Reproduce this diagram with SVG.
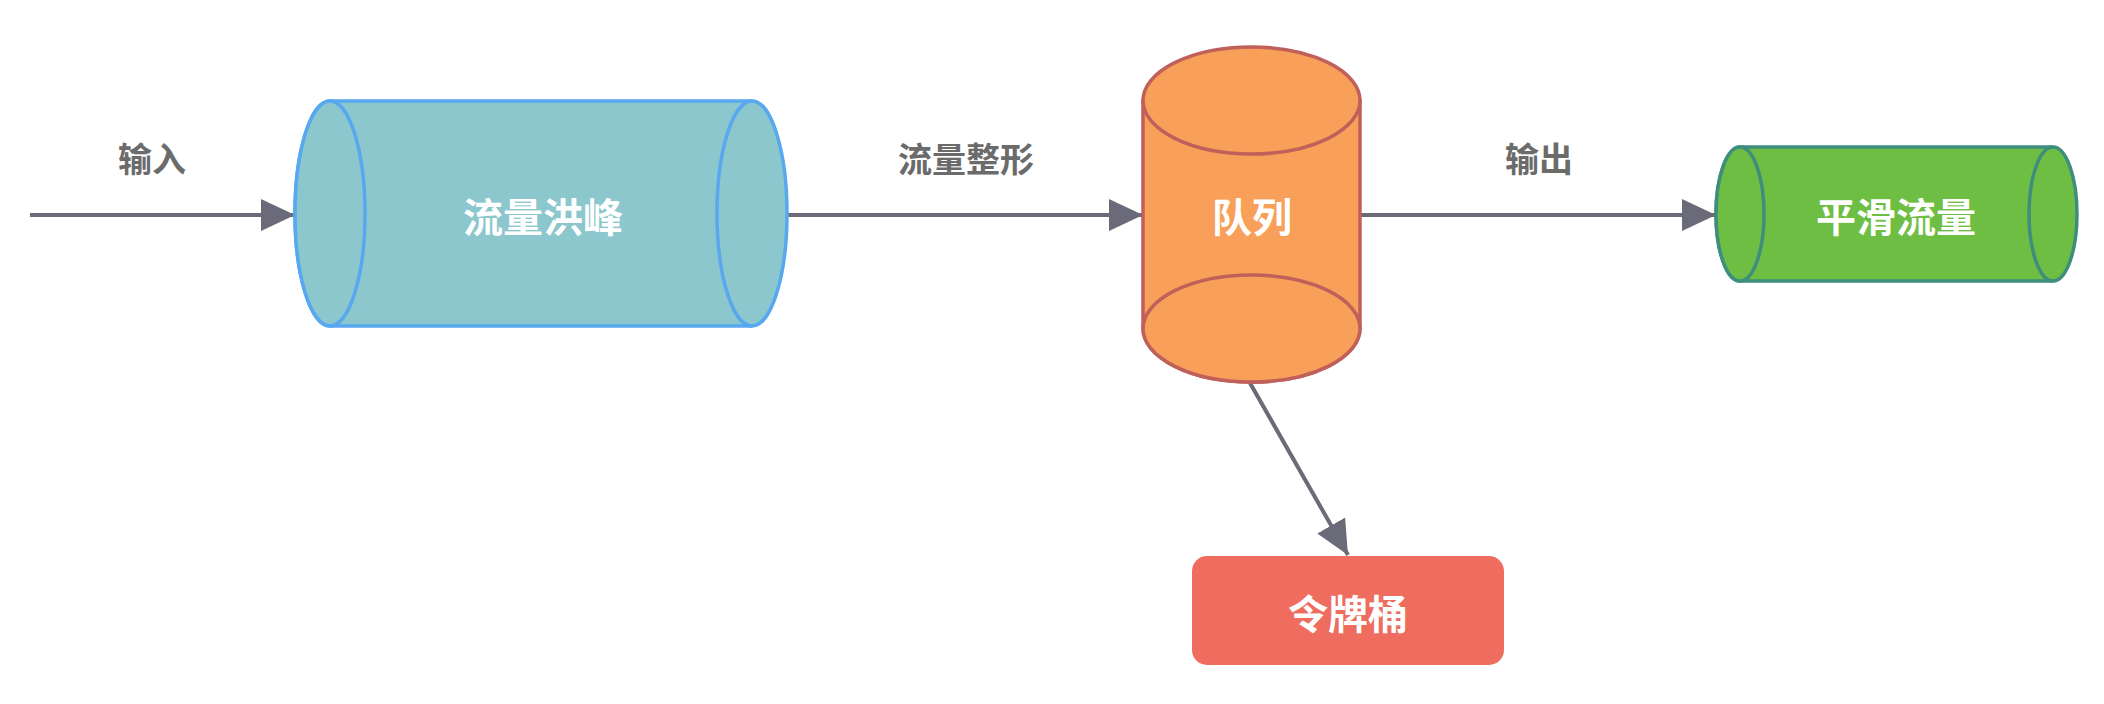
<svg xmlns="http://www.w3.org/2000/svg" width="2104" height="704" viewBox="0 0 2104 704">
<style>
text{font-family:"Noto Sans CJK SC","Noto Sans",sans-serif;font-weight:bold;text-anchor:middle;dominant-baseline:central}
.lbl{fill:#6b6b6b;font-size:34px}
.nt{fill:#ffffff;font-size:40px}
.edge{stroke:#6b6a78;stroke-width:4;fill:none}
</style>
<defs>
<marker id="ah" markerUnits="userSpaceOnUse" markerWidth="36" markerHeight="34" viewBox="0 0 36 34" refX="34" refY="17" orient="auto">
<path d="M0,1 L34,17 L0,33 Z" fill="#6b6a78"/>
</marker>
</defs>
<rect width="2104" height="704" fill="#ffffff"/>
<g id="connectors">
<line class="edge" x1="30" y1="215" x2="295" y2="215" marker-end="url(#ah)"/>
<line class="edge" x1="787" y1="215" x2="1143" y2="215" marker-end="url(#ah)"/>
<line class="edge" x1="1361" y1="215" x2="1716" y2="215" marker-end="url(#ah)"/>
<line class="edge" x1="1250" y1="383" x2="1348" y2="555" marker-end="url(#ah)"/>
<text class="lbl" x="152" y="157">输入</text>
<text class="lbl" x="966" y="157">流量整形</text>
<text class="lbl" x="1539" y="157">输出</text>
</g>
<g id="flood">
<path d="M330,101 L752,101 A35,112.5 0 0 1 752,326 L330,326 A35,112.5 0 0 1 330,101 Z" fill="#8bc7cd" stroke="#58a8f0" stroke-width="3.5"/>
<ellipse cx="330" cy="213.5" rx="35" ry="112.5" fill="#8bc7cd" stroke="#58a8f0" stroke-width="3.5"/>
<path d="M752,101 A35,112.5 0 0 0 752,326" fill="none" stroke="#58a8f0" stroke-width="3.5"/>
<text class="nt" x="543" y="215">流量洪峰</text>
</g>
<g id="queue">
<path d="M1143,100.5 L1143,328.5 A108.5,53.5 0 0 0 1360,328.5 L1360,100.5 Z" fill="#f8a05a" stroke="#c0605a" stroke-width="3.5"/>
<ellipse cx="1251.5" cy="100.5" rx="108.5" ry="53.5" fill="#f8a05a" stroke="#c0605a" stroke-width="3.5"/>
<ellipse cx="1251.5" cy="328.5" rx="108.5" ry="53.5" fill="#f8a05a" stroke="#c0605a" stroke-width="3.5"/>
<text class="nt" x="1252" y="215">队列</text>
</g>
<g id="smooth">
<path d="M1740,147 L2053,147 A24,67 0 0 1 2053,281 L1740,281 A24,67 0 0 1 1740,147 Z" fill="#6ebe44" stroke="#3e8e7e" stroke-width="3.5"/>
<ellipse cx="1740" cy="214" rx="24" ry="67" fill="#6ebe44" stroke="#3e8e7e" stroke-width="3.5"/>
<path d="M2053,147 A24,67 0 0 0 2053,281" fill="none" stroke="#3e8e7e" stroke-width="3.5"/>
<text class="nt" x="1896" y="215">平滑流量</text>
</g>
<g id="bucket">
<rect x="1192" y="556" width="312" height="109" rx="15" fill="#ee6d5e"/>
<text class="nt" x="1348" y="612">令牌桶</text>
</g>
</svg>
